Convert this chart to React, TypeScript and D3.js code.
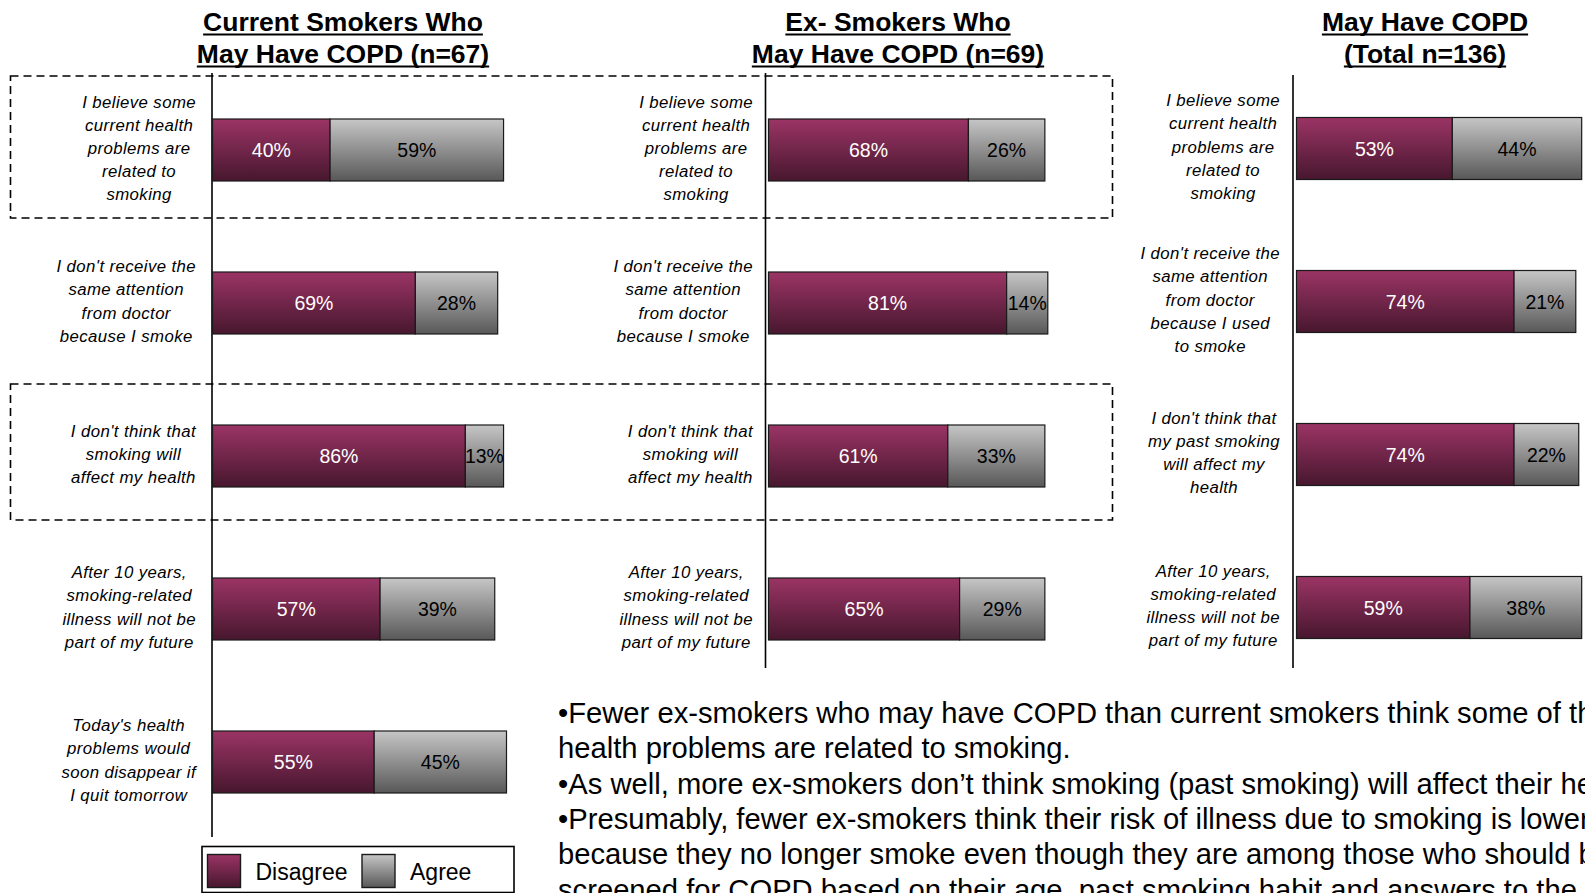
import React, { useEffect, useRef } from "react";
import * as d3 from "d3";

const W = 1585;
const H = 893;

// ---------- data ----------
const currentTitle = ["Current Smokers Who", "May Have COPD (n=67)"];
const currentCategories = [
  "I believe some\ncurrent health\nproblems are\nrelated to\nsmoking",
  "I don't receive the\nsame attention\nfrom doctor\nbecause I smoke",
  "I don't think that\nsmoking will\naffect my health",
  "After 10 years,\nsmoking-related\nillness will not be\npart of my future",
  "Today's health\nproblems would\nsoon disappear if\nI quit tomorrow",
];
const currentDisagree = [40, 69, 86, 57, 55];
const currentAgree = [59, 28, 13, 39, 45];

const exTitle = ["Ex- Smokers Who", "May Have COPD (n=69)"];
const exCategories = [
  "I believe some\ncurrent health\nproblems are\nrelated to\nsmoking",
  "I don't receive the\nsame attention\nfrom doctor\nbecause I smoke",
  "I don't think that\nsmoking will\naffect my health",
  "After 10 years,\nsmoking-related\nillness will not be\npart of my future",
];
const exDisagree = [68, 81, 61, 65];
const exAgree = [26, 14, 33, 29];

const totalTitle = ["May Have COPD", "(Total n=136)"];
const totalCategories = [
  "I believe some\ncurrent health\nproblems are\nrelated to\nsmoking",
  "I don't receive the\nsame attention\nfrom doctor\nbecause I used\nto smoke",
  "I don't think that\nmy past smoking\nwill affect my\nhealth",
  "After 10 years,\nsmoking-related\nillness will not be\npart of my future",
];
const totalDisagree = [53, 74, 74, 59];
const totalAgree = [44, 21, 22, 38];

const seriesNames = ["Disagree", "Agree"];

const notes = [
  "•Fewer ex-smokers who may have COPD than current smokers think some of their",
  "health problems are related to smoking.",
  "•As well, more ex-smokers don’t think smoking (past smoking) will affect their health.",
  "•Presumably, fewer ex-smokers think their risk of illness due to smoking is lower",
  "because they no longer smoke even though they are among those who should be",
  "screened for COPD based on their age, past smoking habit and answers to the questions.",
];

// ---------- layout ----------
const FONT = "'Liberation Sans', Arial, Helvetica, sans-serif";
const panels = [
  {
    title: currentTitle, cats: currentCategories, dis: currentDisagree, agr: currentAgree,
    axisX: 212, barX: 212.5, axisTop: 73, axisBottom: 837, rowFirst: 150, rowLast: 762,
    titleX: 343, labelRight: 196,
  },
  {
    title: exTitle, cats: exCategories, dis: exDisagree, agr: exAgree,
    axisX: 765.5, barX: 768.5, axisTop: 73, axisBottom: 668, rowFirst: 150, rowLast: 609,
    titleX: 898, labelRight: 753,
  },
  {
    title: totalTitle, cats: totalCategories, dis: totalDisagree, agr: totalAgree,
    axisX: 1293, barX: 1296.5, axisTop: 75, axisBottom: 668, rowFirst: 148.5, rowLast: 607.5,
    titleX: 1425, labelRight: 1280,
  },
];

const BAR_H = 62;
const PX_PER_100 = 294;

export default function App() {
  const ref = useRef<SVGSVGElement>(null);

  useEffect(() => {
    const svg = d3.select(ref.current);
    svg.selectAll("*").remove();

    const defs = svg.append("defs");
    const g1 = defs.append("linearGradient").attr("id", "gDis").attr("x1", 0).attr("y1", 0).attr("x2", 0).attr("y2", 1);
    g1.append("stop").attr("offset", "0%").attr("stop-color", "#9b3465");
    g1.append("stop").attr("offset", "100%").attr("stop-color", "#47172e");
    const g2 = defs.append("linearGradient").attr("id", "gAgr").attr("x1", 0).attr("y1", 0).attr("x2", 0).attr("y2", 1);
    g2.append("stop").attr("offset", "0%").attr("stop-color", "#c6c6c6");
    g2.append("stop").attr("offset", "100%").attr("stop-color", "#585858");

    svg.append("rect").attr("width", W).attr("height", H).attr("fill", "#ffffff");

    // dashed highlight boxes
    const boxes = [
      { y0: 76, y1: 218 },
      { y0: 384, y1: 520 },
    ];
    boxes.forEach((b) => {
      svg.append("rect")
        .attr("x", 10.5).attr("y", b.y0).attr("width", 1102).attr("height", b.y1 - b.y0)
        .attr("fill", "none").attr("stroke", "#000").attr("stroke-width", 1.6)
        .attr("stroke-dasharray", "8,5");
    });

    panels.forEach((p) => {
      const x = d3.scaleLinear().domain([0, 100]).range([p.barX, p.barX + PX_PER_100]);
      const y = d3.scalePoint<number>().domain(p.cats.map((_, i) => i)).range([p.rowFirst, p.rowLast]);

      // title
      p.title.forEach((t, i) => {
        const txt = svg.append("text")
          .attr("x", p.titleX).attr("y", 31 + i * 32)
          .attr("text-anchor", "middle")
          .attr("font-family", FONT).attr("font-weight", "bold").attr("font-size", 26.5)
          .attr("fill", "#000").text(t);
        const w = (txt.node() as SVGTextElement).getComputedTextLength();
        svg.append("rect")
          .attr("x", p.titleX - w / 2).attr("y", 31 + i * 32 + 2.5)
          .attr("width", w).attr("height", 2).attr("fill", "#000");
      });

      // axis line
      svg.append("line")
        .attr("x1", p.axisX).attr("x2", p.axisX).attr("y1", p.axisTop).attr("y2", p.axisBottom)
        .attr("stroke", "#000").attr("stroke-width", 1.6);

      p.cats.forEach((cat, i) => {
        const cy = y(i) as number;
        const d = p.dis[i];
        const a = p.agr[i];
        // disagree
        svg.append("rect")
          .attr("x", x(0)).attr("y", cy - BAR_H / 2)
          .attr("width", x(d) - x(0)).attr("height", BAR_H)
          .attr("fill", "url(#gDis)").attr("stroke", "#1a1a1a").attr("stroke-width", 1.2);
        svg.append("rect")
          .attr("x", x(d)).attr("y", cy - BAR_H / 2)
          .attr("width", x(d + a) - x(d)).attr("height", BAR_H)
          .attr("fill", "url(#gAgr)").attr("stroke", "#1a1a1a").attr("stroke-width", 1.2);
        svg.append("text")
          .attr("x", (x(0) + x(d)) / 2).attr("y", cy + 7)
          .attr("text-anchor", "middle").attr("font-family", FONT).attr("font-size", 19.5)
          .attr("fill", "#ffffff").text(d + "%");
        svg.append("text")
          .attr("x", (x(d) + x(d + a)) / 2).attr("y", cy + 7)
          .attr("text-anchor", "middle").attr("font-family", FONT).attr("font-size", 19.5)
          .attr("fill", "#000").text(a + "%");

        // category label block
        const lines = cat.split("\n");
        const lh = 23.2;
        const gLab = svg.append("g");
        const nodes = lines.map((ln, k) =>
          gLab.append("text")
            .attr("y", cy - 2 + (k - (lines.length - 1) / 2) * lh + 6)
            .attr("text-anchor", "middle")
            .attr("font-family", FONT).attr("font-style", "italic").attr("font-size", 16.8)
            .attr("letter-spacing", 0.4)
            .attr("fill", "#000").text(ln)
        );
        const maxW = d3.max(nodes, (n) => (n.node() as SVGTextElement).getComputedTextLength()) || 0;
        const cx = p.labelRight - maxW / 2;
        nodes.forEach((n) => n.attr("x", cx));
      });
    });

    // legend
    const lg = svg.append("g");
    lg.append("rect").attr("x", 202).attr("y", 846.5).attr("width", 312).attr("height", 46)
      .attr("fill", "#fff").attr("stroke", "#000").attr("stroke-width", 1.6);
    const legendX = [207.5, 362];
    const legendFill = ["url(#gDis)", "url(#gAgr)"];
    seriesNames.forEach((s, i) => {
      lg.append("rect").attr("x", legendX[i]).attr("y", 854.5).attr("width", 33).attr("height", 33)
        .attr("fill", legendFill[i]).attr("stroke", "#1a1a1a").attr("stroke-width", 1.4);
      lg.append("text").attr("x", legendX[i] + 48).attr("y", 880)
        .attr("font-family", FONT).attr("font-size", 23).attr("fill", "#000").text(s);
    });

    // notes text
    notes.forEach((t, i) => {
      svg.append("text").attr("x", 558).attr("y", 723 + i * 35.3)
        .attr("font-family", FONT).attr("font-size", 29.2).attr("fill", "#000").text(t);
    });
  }, []);

  return (
    <svg
      ref={ref}
      width={W}
      height={H}
      style={{ position: "absolute", left: 0, top: 0, overflow: "hidden", display: "block" }}
    />
  );
}
